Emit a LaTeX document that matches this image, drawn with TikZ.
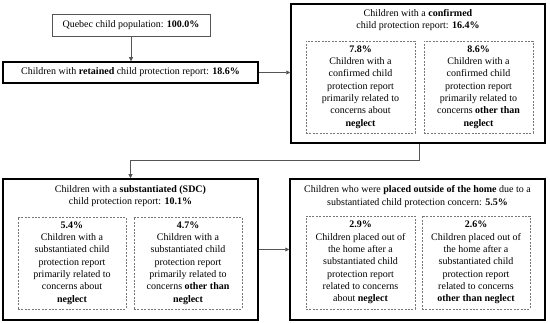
\documentclass[tikz,border=0pt]{standalone}
\usepackage{fontspec}
\setmainfont{Liberation Serif}
\usetikzlibrary{calc,arrows.meta}
\definecolor{cp-line}{HTML}{555555}
\definecolor{cp-dash}{HTML}{777777}

\begin{document}
\begin{tikzpicture}[x=1pt,y=-1pt,
    every node/.style={font=\fontsize{10}{12.3}\selectfont, align=center, inner sep=0pt},
    mainbox/.style={draw=black, line width=1.5pt, minimum width=255pt, minimum height=141pt},
    subbox/.style={draw=cp-dash, line width=0.8pt, dash pattern=on 2pt off 1.4pt, minimum width=109pt, minimum height=92pt},
    link/.style={cp-line, line width=0.8pt, -{Triangle[length=4pt,width=4pt]}}]
    \useasboundingbox (0,0) rectangle (550,323);
    \node[draw=cp-line, line width=0.7pt, minimum width=158pt, minimum height=22pt] (pop) at (131,25) {Quebec child population: \textbf{100.0\%}};
    \node[mainbox, minimum height=21pt] (retained) at (130.5,72.5) {Children with \textbf{retained} child protection report: \textbf{18.6\%}};
    \node[mainbox, minimum width=254pt, minimum height=139pt] (confirmed) at (418,73.5) {};
    \node (confirmedtitle) at (418,20) {Children with a \textbf{confirmed}\\child protection report: \textbf{16.4\%}};
    \node[subbox] (confneglect) at (360.5,87) {\textbf{7.8\%}\\Children with a\\confirmed child\\protection report\\primarily related to\\concerns about\\\textbf{neglect}};
    \node[subbox] (confother) at (478.5,87) {\textbf{8.6\%}\\Children with a\\confirmed child\\protection report\\primarily related to\\concerns \textbf{other than}\\\textbf{neglect}};
    \node[mainbox] (sdc) at (130.5,249.5) {};
    \node (sdctitle) at (130.5,196) {Children with a \textbf{substantiated (SDC)}\\child protection report: \textbf{10.1\%}};
    \node[subbox, minimum width=108pt] (sdcneglect) at (72,263) {\textbf{5.4\%}\\Children with a\\substantiated child\\protection report\\primarily related to\\concerns about\\\textbf{neglect}};
    \node[subbox, minimum width=108pt] (sdcother) at (188,263) {\textbf{4.7\%}\\Children with a\\substantiated child\\protection report\\primarily related to\\concerns \textbf{other than}\\\textbf{neglect}};
    \node[mainbox] (placed) at (417.5,249.5) {};
    \node (placedtitle) at (417.5,196.5) {Children who were \textbf{placed outside of the home} due to a\\substantiated child protection concern: \textbf{5.5\%}};
    \node[subbox, minimum height=93pt] (placedneglect) at (360.5,262.5) {\textbf{2.9\%}\\Children placed out of\\the home after a\\substantiated child\\protection report\\related to concerns\\about \textbf{neglect}};
    \node[subbox, minimum width=108pt, minimum height=93pt] (placedother) at (476,262.5) {\textbf{2.6\%}\\Children placed out of\\the home after a\\substantiated child\\protection report\\related to concerns\\\textbf{other than neglect}};
    \coordinate (bend) at (419,160);
    \draw[link] (pop.south) -- (pop.south |- retained.north);
    \draw[link] (retained.east) -- (retained.east -| confirmed.west);
    \draw[link] (confirmed.south -| bend) -- (bend) -| (sdc.north);
    \draw[link] (sdc.east) -- (placed.west);
\end{tikzpicture}
\end{document}
